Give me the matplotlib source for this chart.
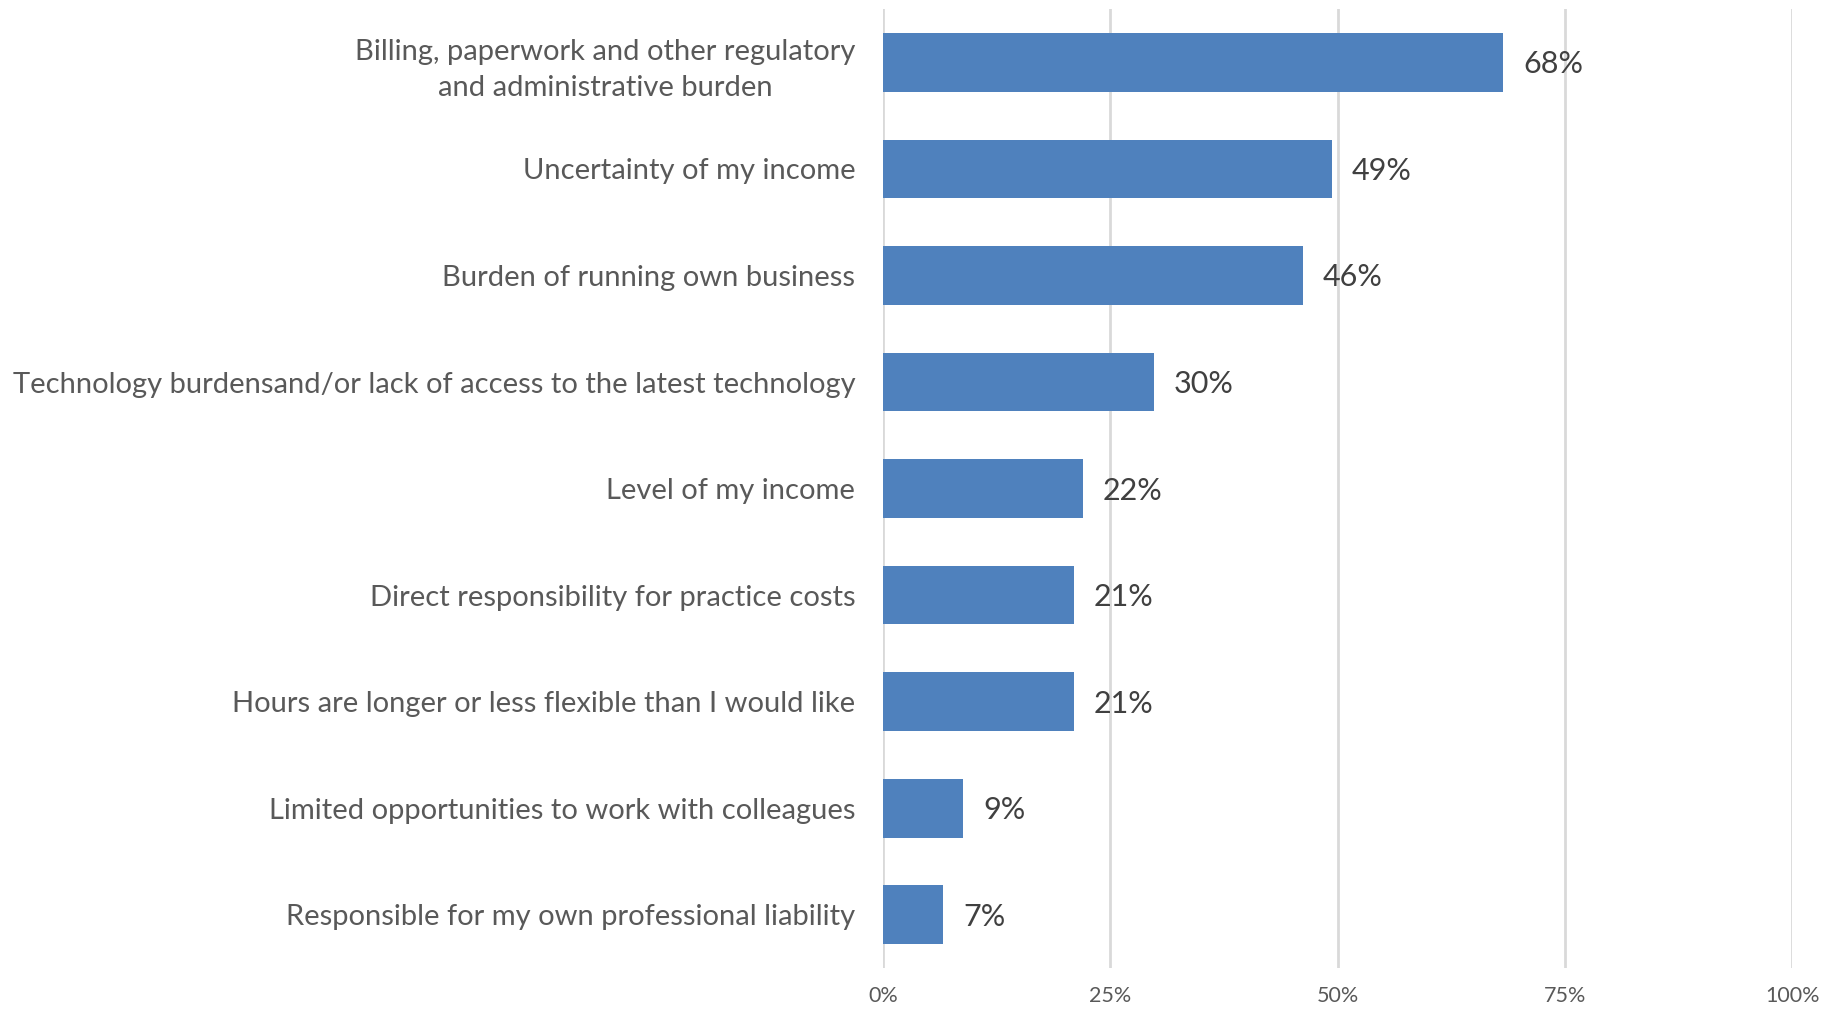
import matplotlib.pyplot as plt
from matplotlib.ticker import PercentFormatter

plt.rcParams['font.family'] = ['Lato', 'DejaVu Sans']

Categories = [
    "Billing, paperwork and other regulatory\nand administrative burden",
    "Uncertainty of my income",
    "Burden of running own business",
    "Technology burdensand/or lack of access to the latest technology",
    "Level of my income",
    "Direct responsibility for practice costs",
    "Hours are longer or less flexible than I would like",
    "Limited opportunities to work with colleagues",
    "Responsible for my own professional liability",
]
Shares = [68.2, 49.4, 46.2, 29.8, 22.0, 21.0, 21.0, 8.8, 6.6]
XTicks = [0, 25, 50, 75, 100]

BarColor = '#4F81BD'
GridColor = '#D9D9D9'

fig = plt.figure(figsize=(18.45, 10.13), dpi=100)
ax = fig.add_axes([0.4786, 0.0444, 0.4927, 0.9466])

Pos = list(range(len(Categories)))
ax.barh(Pos, Shares, height=0.55, color=BarColor, zorder=3)

for P, V in zip(Pos, Shares):
    ax.annotate(f"{round(V)}%", xy=(V, P), xytext=(20, -2), textcoords='offset pixels',
                ha='left', va='center', fontsize=22, color='#404040')

ax.set_xlim(0, 100)
ax.set_ylim(len(Categories) - 0.5, -0.5)
ax.set_xticks(XTicks)
ax.xaxis.set_major_formatter(PercentFormatter(decimals=0))
ax.set_yticks(Pos)
ax.set_yticklabels(Categories, multialignment='center', linespacing=1.5)
ax.tick_params(axis='y', length=0, pad=20, labelsize=21, labelcolor='#595959')
ax.tick_params(axis='x', length=0, pad=13, labelsize=15.5, labelcolor='#595959')

ax.grid(axis='x', color=GridColor, linewidth=2, zorder=0)
for S in ax.spines.values():
    S.set_visible(False)

fig.savefig('out.png', dpi=100)
